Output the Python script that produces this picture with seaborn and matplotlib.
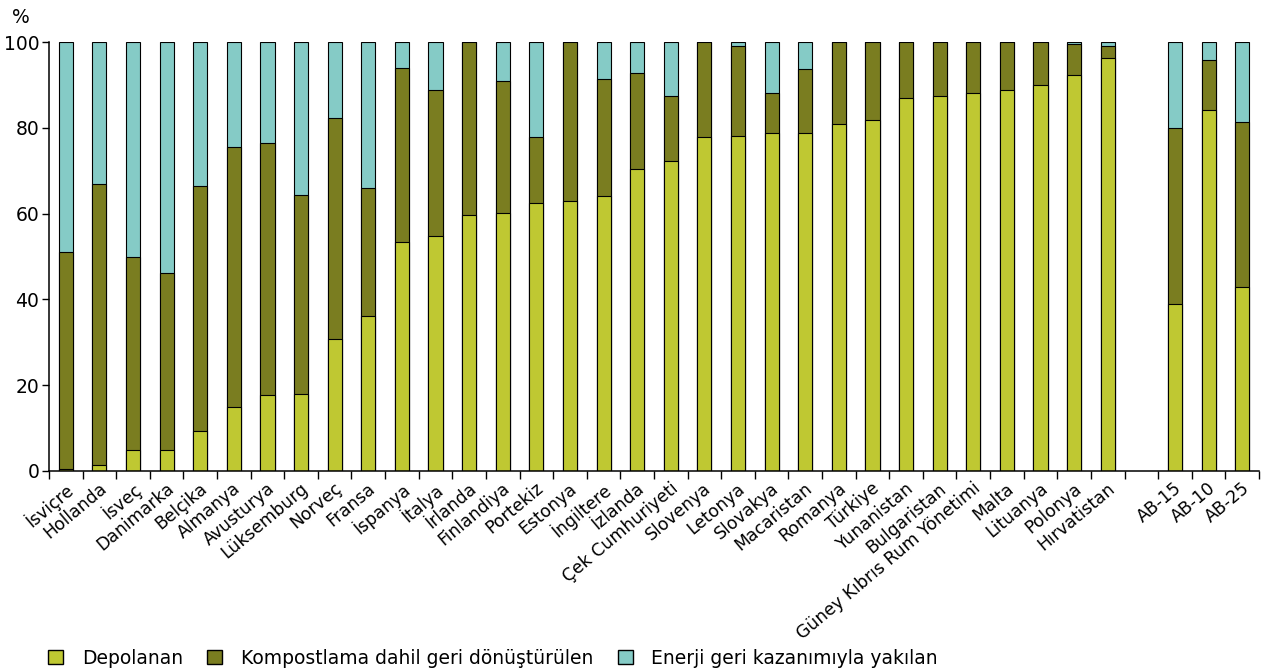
import numpy as np
import pandas as pd
import matplotlib
matplotlib.use("Agg")
import matplotlib.pyplot as plt
import matplotlib.transforms as mtransforms
import seaborn as sns
from matplotlib.patches import Patch

countries = [
    "İsviçre", "Hollanda", "İsveç", "Danimarka", "Belçika", "Almanya",
    "Avusturya", "Lüksemburg", "Norveç", "Fransa", "İspanya", "İtalya",
    "İrlanda", "Finlandiya", "Portekiz", "Estonya", "İngiltere", "İzlanda",
    "Çek Cumhuriyeti", "Slovenya", "Letonya", "Slovakya", "Macaristan",
    "Romanya", "Türkiye", "Yunanistan", "Bulgaristan",
    "Güney Kıbrıs Rum Yönetimi", "Malta", "Lituanya", "Polonya",
    "Hırvatistan", "AB-15", "AB-10", "AB-25",
]
depolanan = [
    0.5, 1.3, 4.9, 4.9, 9.4, 14.9, 17.6, 18.0, 30.7, 36.1, 53.4, 54.7,
    59.7, 60.1, 62.4, 62.9, 64.2, 70.5, 72.3, 77.9, 78.2, 78.7, 78.7,
    81.0, 81.9, 86.9, 87.3, 88.2, 88.7, 90.0, 92.3, 96.3, 38.9, 84.1, 43.0,
]
kompost = [
    50.6, 65.7, 44.9, 41.3, 57.0, 60.6, 58.9, 46.3, 51.7, 29.9, 40.6, 34.0,
    40.3, 30.8, 15.5, 37.1, 27.2, 22.3, 15.0, 22.1, 20.9, 9.5, 14.9,
    19.0, 18.1, 13.1, 12.7, 11.8, 11.3, 10.0, 7.3, 2.8, 41.1, 11.8, 38.4,
]
enerji = [
    48.9, 33.0, 50.2, 53.8, 33.6, 24.5, 23.5, 35.7, 17.6, 34.0, 6.0, 11.3,
    0.0, 9.1, 22.1, 0.0, 8.6, 7.2, 12.7, 0.0, 0.9, 11.8, 6.4,
    0.0, 0.0, 0.0, 0.0, 0.0, 0.0, 0.0, 0.4, 0.9, 20.0, 4.1, 18.6,
]
series_labels = ["Depolanan", "Kompostlama dahil geri dönüştürülen",
                 "Enerji geri kazanımıyla yakılan"]
colors = ["#BFC832", "#7A7D20", "#85CBC6"]

# Category order: countries, one empty slot, then the EU aggregates
order = countries[:32] + [" "] + countries[32:]

df = pd.DataFrame({
    "ulke": countries,
    "depo": depolanan,
    "kompost": kompost,
    "enerji": enerji,
})
df["c1"] = df["depo"]
df["c2"] = df["depo"] + df["kompost"]
df["c3"] = df["depo"] + df["kompost"] + df["enerji"]

sns.set_style("ticks")
plt.rcParams["font.family"] = ["DejaVu Sans"]
plt.rcParams.update({
    "text.color": "black",
    "axes.labelcolor": "black",
    "xtick.color": "black",
    "ytick.color": "black",
    "axes.edgecolor": "black",
})

fig = plt.figure(figsize=(12.66, 6.69), dpi=100)
ax = fig.add_axes([49 / 1266, 1 - 471 / 669, (1259 - 49) / 1266, (471 - 42) / 669])

# Stacked bars drawn as overlapping cumulative totals, tallest first
for col, c in zip(["c3", "c2", "c1"], colors[::-1]):
    sns.barplot(data=df, x="ulke", y=col, order=order, color=c,
                saturation=1, width=0.42, edgecolor="black", linewidth=0.8,
                errorbar=None, ax=ax)

ax.set_xlim(-0.5, len(order) - 0.5)
ax.set_ylim(0, 100)
ax.set_xlabel("")
ax.set_ylabel("")
ax.set_yticks([0, 20, 40, 60, 80, 100])
ax.tick_params(axis="y", labelsize=13.5, length=5, width=1, pad=2)

ax.set_xticks(range(len(order)))
ax.set_xticklabels(order, rotation=40, ha="right", rotation_mode="anchor",
                   fontsize=12.4)
ax.tick_params(axis="x", which="major", length=0, pad=6)
shift = mtransforms.ScaledTranslation(-1 / 100, 0, fig.dpi_scale_trans)
for lab in ax.get_xticklabels():
    lab.set_transform(lab.get_transform() + shift)
ax.set_xticks(np.arange(-0.5, len(order)), minor=True)
ax.tick_params(axis="x", which="minor", length=6, width=1)

sns.despine(ax=ax)
for s in ["left", "bottom"]:
    ax.spines[s].set_linewidth(1.1)

fig.text(12 / 1266, 1 - 23 / 669, "%", fontsize=13.5)

handles = [Patch(facecolor=c, edgecolor="black", linewidth=1) for c in colors]
fig.legend(handles, series_labels, loc="center left",
           bbox_to_anchor=(31 / 1266, 1 - 658 / 669), ncol=3, frameon=False,
           fontsize=13.5, handlelength=0.8, handleheight=0.8,
           handletextpad=1.0, columnspacing=1.3)

fig.savefig("out.png", dpi=100)
